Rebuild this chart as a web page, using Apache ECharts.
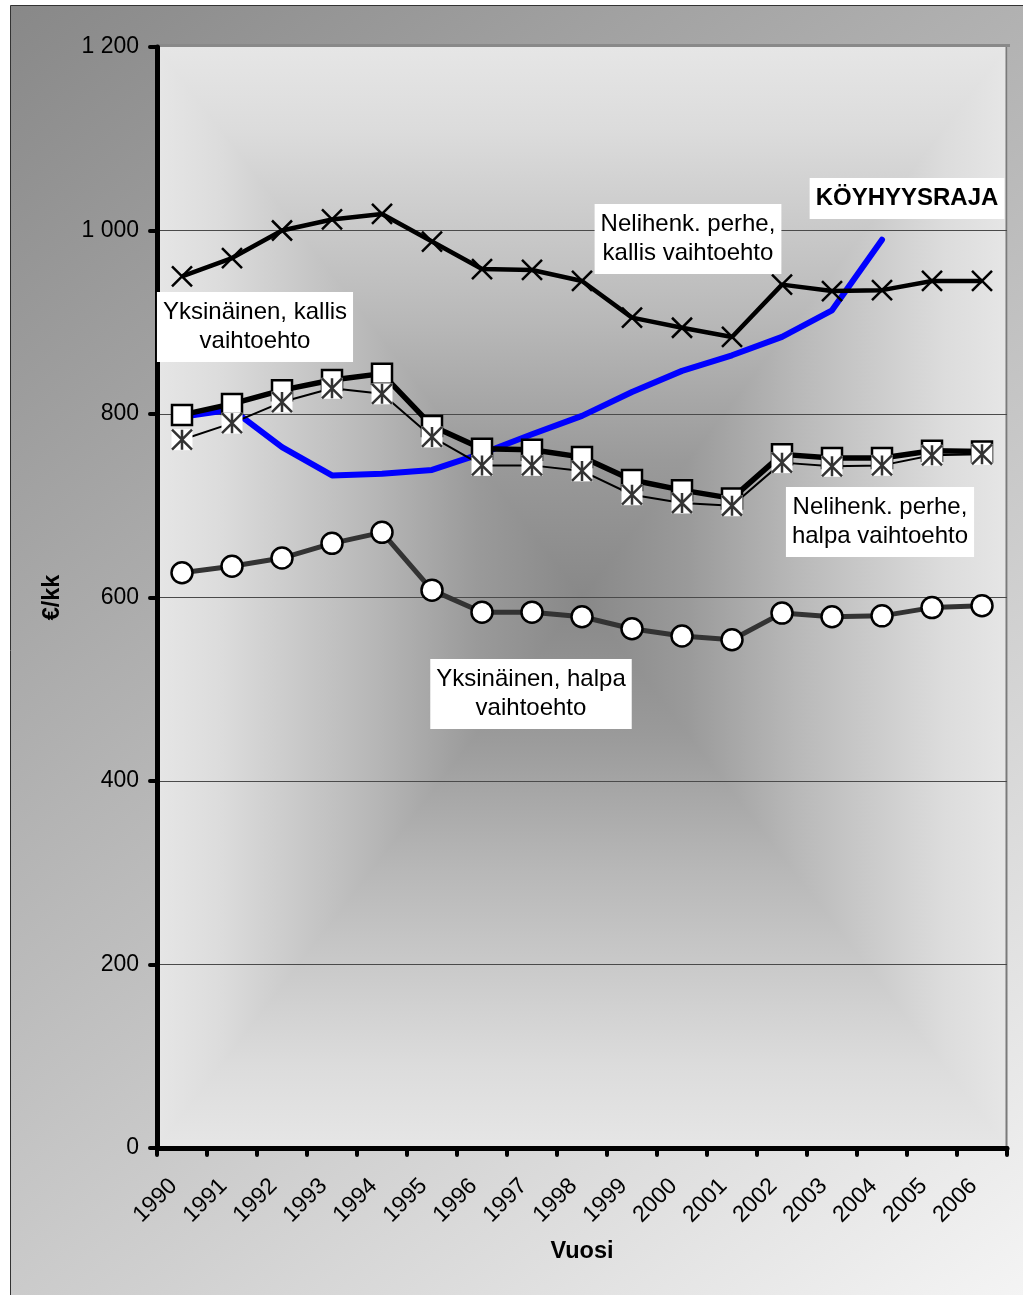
<!DOCTYPE html>
<html>
<head>
<meta charset="utf-8">
<style>
html,body{margin:0;padding:0;background:#fff;}
#chart{width:1023px;height:1295px;}
</style>
<script src="https://cdn.jsdelivr.net/npm/echarts@6/dist/echarts.min.js"></script>
</head>
<body>
<div id="chart"></div>
<script>
const years = ['1990','1991','1992','1993','1994','1995','1996','1997','1998','1999','2000','2001','2002','2003','2004','2005','2006'];
const yTicks = [0, 200, 400, 600, 800, 1000, 1200];
const perheKallis = [950,970,1000,1012,1018,988,958,957,945,905,894,884,941,934,935,945,945];
const yksinKallis = [799,811,826,837,844,787,762,761,753,728,717,708,756,752,752,760,759];
const perheHalpa  = [772,790,813,828,822,775,744,744,738,712,703,700,747,743,744,755,756];
const yksinHalpa  = [627,634,643,659,671,608,584,584,579,566,558,554,583,579,580,589,591];
const koyhyysraja = [797,805,764,733,735,739,757,778,798,824,847,864,884,913,990,null,null];

const FONT = "'Liberation Sans', Arial, sans-serif";
const G = {left:157, top:47, right:1007, bottom:1148};
const cx = (G.left+G.right)/2, cy = (G.top+G.bottom)/2;

const stops = [
  {offset:0, color:'#e6e6e6'},
  {offset:0.15, color:'#dcdcdc'},
  {offset:0.5, color:'#b8b8b8'},
  {offset:0.75, color:'#9a9a9a'},
  {offset:1, color:'#888888'}
];
function lg(x0,y0,x1,y1){ return new echarts.graphic.LinearGradient(x0,y0,x1,y1,stops); }
function tri(points, g){
  return {type:'polygon', z:-50, shape:{points:points}, style:{fill:g, stroke:g, lineWidth:1.5, lineJoin:'miter'}};
}

const chart = echarts.init(document.getElementById('chart'), null, {renderer:'canvas'});

function label(text, x, y, bold){
  return {
    type:'text', z:100, x:x, y:y,
    style:{
      text:text, font:(bold?'bold ':'')+'24px '+FONT, fill:'#000',
      align:'center', verticalAlign:'top', lineHeight:29,
      backgroundColor:'#fff', padding:[6,6,6,6]
    }
  };
}

const option = {
  backgroundColor:'#fff',
  animation:false,
  graphic:[
    {type:'rect', z:-100, shape:{x:10.5,y:5.5,width:1013,height:1290},
     style:{fill:new echarts.graphic.LinearGradient(0,0,1,1,[{offset:0,color:'#888888'},{offset:1,color:'#f4f4f4'}]), stroke:'#333', lineWidth:1}},
    tri([[G.left,G.top],[G.right,G.top],[cx,cy]], lg(0,0,0,1)),
    tri([[G.left,G.bottom],[G.right,G.bottom],[cx,cy]], lg(0,1,0,0)),
    tri([[G.left,G.top],[G.left,G.bottom],[cx,cy]], lg(0,0,1,0)),
    tri([[G.right,G.top],[G.right,G.bottom],[cx,cy]], lg(1,0,0,0)),
    {type:'rect', z:-45, shape:{x:G.left-3,y:G.top-3,width:G.right-G.left+6,height:3}, style:{fill:'#898989'}},
    {type:'line', z:-40, shape:{x1:G.right-0.5,y1:G.top,x2:G.right-0.5,y2:G.bottom}, style:{stroke:'#7a7a7a', lineWidth:2}},
    label('Yksinäinen, kallis\nvaihtoehto', 255, 292),
    label('Nelihenk. perhe,\nkallis vaihtoehto', 688, 204),
    label('KÖYHYYSRAJA', 907, 178, true),
    label('Nelihenk. perhe,\nhalpa vaihtoehto', 880, 487),
    label('Yksinäinen, halpa\nvaihtoehto', 531, 659)
  ],
  grid:{left:G.left, top:G.top, width:G.right-G.left, height:G.bottom-G.top, show:false, containLabel:false},
  xAxis:{
    type:'category', data:years, boundaryGap:true,
    name:'Vuosi', nameLocation:'middle', nameGap:92,
    nameTextStyle:{fontFamily:FONT, fontSize:23.5, fontWeight:'bold', color:'#000'},
    axisLine:{lineStyle:{color:'#000', width:5}},
    axisTick:{show:true, inside:false, length:7, alignWithLabel:false, interval:0, lineStyle:{color:'#000', width:4, cap:'round'}},
    axisLabel:{interval:0, rotate:45, margin:26, padding:[0,12,0,0], fontFamily:FONT, fontSize:23, color:'#000'},
    splitLine:{show:false}
  },
  yAxis:{
    type:'value', min:yTicks[0], max:yTicks[yTicks.length-1], interval:200,
    name:'€/kk', nameLocation:'middle', nameGap:92, nameRotate:90,
    nameTextStyle:{fontFamily:FONT, fontSize:23.5, fontWeight:'bold', color:'#000'},
    axisLine:{show:true, lineStyle:{color:'#000', width:5}},
    axisTick:{show:true, inside:false, length:7, lineStyle:{color:'#000', width:4, cap:'round'}},
    axisLabel:{margin:18, fontFamily:FONT, fontSize:23, color:'#000',
      formatter:function(v){ return String(v).replace(/\B(?=(\d{3})+(?!\d))/g,' '); }},
    splitLine:{show:true, showMaxLine:false, lineStyle:{color:'#4a4a4a', width:1}}
  },
  series:[
    {
      name:'Köyhyysraja', type:'line', data:koyhyysraja, z:2,
      showSymbol:false, symbol:'none', connectNulls:false,
      lineStyle:{color:'#0000ff', width:6, cap:'round', join:'round'}
    },
    {
      name:'Nelihenk. perhe, kallis vaihtoehto', type:'line', data:perheKallis, z:3,
      symbol:'path://M0,0L10,10M10,0L0,10', symbolSize:20,
      itemStyle:{color:'none', borderColor:'#000', borderWidth:2.5},
      lineStyle:{color:'#000', width:4.5}
    },
    {
      name:'Yksinäinen, halpa vaihtoehto', type:'line', data:yksinHalpa, z:3,
      symbol:'circle', symbolSize:21,
      itemStyle:{color:'#fff', borderColor:'#000', borderWidth:2.5},
      lineStyle:{color:'#333', width:5}
    },
    {
      name:'Yksinäinen, kallis vaihtoehto', type:'line', data:yksinKallis, z:4,
      symbol:'rect', symbolSize:20,
      itemStyle:{color:'#fff', borderColor:'#000', borderWidth:2.5},
      lineStyle:{color:'#000', width:5.5}
    },
    {
      name:'Nelihenk. perhe, halpa vaihtoehto', type:'line', data:perheHalpa, z:5,
      symbol:'rect', symbolSize:21,
      itemStyle:{color:'#fff', borderWidth:0},
      lineStyle:{color:'#000', width:2}
    },
    {
      name:'Nelihenk. perhe, halpa vaihtoehto (merkki)', type:'line', data:perheHalpa, z:6,
      symbol:'path://M0,0L10,10M10,0L0,10M5,0L5,10', symbolSize:20,
      itemStyle:{color:'none', borderColor:'#333', borderWidth:2.5},
      lineStyle:{width:0, opacity:0}
    }
  ]
};
chart.setOption(option);
</script>
</body>
</html>
